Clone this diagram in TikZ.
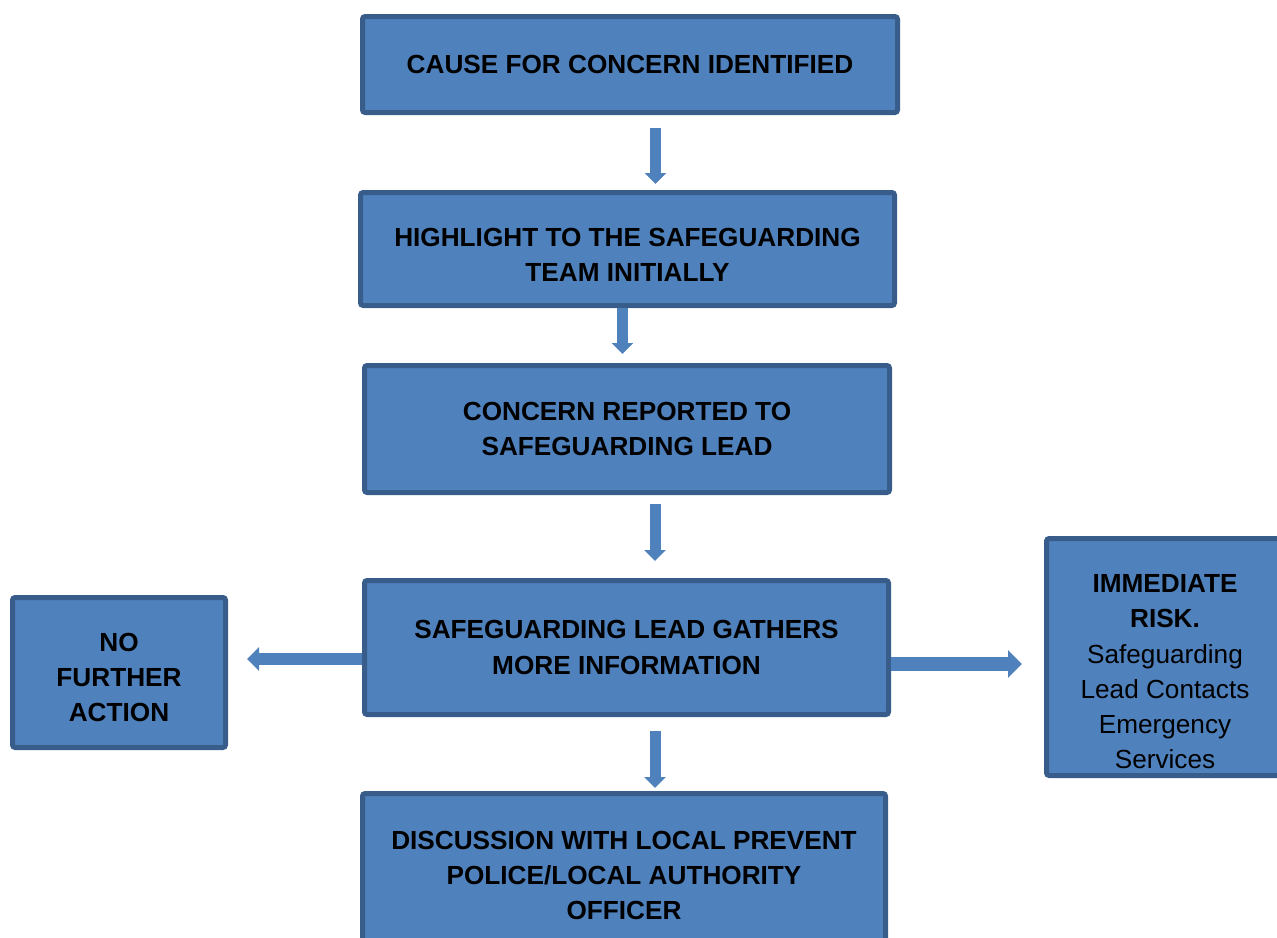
\documentclass[tikz,border=0pt]{standalone}
\usepackage{fontspec}
\setmainfont{Liberation Sans}
\usetikzlibrary{arrows.meta, positioning}
\definecolor{cFill}{HTML}{4F81BD}
\definecolor{cBorder}{HTML}{385D8A}
\tikzset{
  box/.style={draw=cBorder, fill=cFill, line width=0.1cm, rounded corners=1.5pt,
    align=center, inner sep=2pt, text=black,
    font=\fontsize{14.9}{20}\selectfont\bfseries},
  mainbox/.style={box, minimum width=10.5cm},
  sidebox/.style={box, minimum width=4.26cm, minimum height=3.0cm},
  flow/.style={-{Triangle[length=0.22cm, width=0.42cm]}, line width=0.22cm, draw=cFill},
}

\begin{document}
\begin{tikzpicture}

  \useasboundingbox (0,0) rectangle (25.54,-18.76);

  % ----------------------------------------------------------------
  % Main column
  % ----------------------------------------------------------------
  \node[mainbox, minimum width=10.70cm, minimum height=1.92cm] (cause) at (12.60,-1.29)
    {CAUSE FOR CONCERN IDENTIFIED};
  \node[mainbox, minimum width=10.68cm, minimum height=2.26cm, below=1.50cm of cause, xshift=-0.05cm] (highlight)
    {\rule{0pt}{17.5pt}HIGHLIGHT TO THE SAFEGUARDING\\ TEAM INITIALLY};
  \node[mainbox, minimum height=2.54cm, below=1.10cm of highlight, xshift=-0.01cm] (reported)
    {CONCERN REPORTED TO\\ SAFEGUARDING LEAD};
  \node[mainbox, minimum width=10.48cm, minimum height=2.68cm, below=1.66cm of reported, xshift=-0.01cm] (gathers)
    {SAFEGUARDING LEAD GATHERS\\ MORE INFORMATION};
  \node[mainbox, minimum width=10.46cm, minimum height=3.14cm, below=1.48cm of gathers, xshift=-0.05cm] (discussion)
    {\rule{0pt}{14pt}DISCUSSION WITH LOCAL PREVENT\\ POLICE/LOCAL AUTHORITY\\ OFFICER};

  % ----------------------------------------------------------------
  % Side outcomes
  % ----------------------------------------------------------------
  \node[sidebox, left=2.68cm of gathers, yshift=-0.50cm] (nfa)
    {\rule{0pt}{15.8pt}NO\\ FURTHER\\ ACTION};
  \node[sidebox, minimum width=4.74cm, minimum height=4.74cm, right=3.06cm of gathers, yshift=-0.19cm] (risk)
    {\rule{0pt}{27pt}IMMEDIATE\\ RISK.\\ \mdseries Safeguarding\\ \mdseries Lead Contacts\\ \mdseries Emergency\\ \mdseries Services};

  % ----------------------------------------------------------------
  % Arrows
  % ----------------------------------------------------------------
  \draw[flow, shorten <=0.26cm, shorten >=0.12cm] ([xshift=0.51cm]cause.south) -- ([xshift=0.51cm]cause.south |- highlight.north);
  \draw[flow, shorten >=0.18cm] ([xshift=-0.10cm]highlight.south) -- ([xshift=-0.10cm]highlight.south |- reported.north);
  \draw[flow, shorten <=0.18cm, shorten >=0.34cm] ([xshift=0.56cm]reported.south) -- ([xshift=0.56cm]reported.south |- gathers.north);
  \draw[flow, shorten <=0.28cm, shorten >=0.06cm] ([xshift=0.57cm]gathers.south) -- ([xshift=0.57cm]gathers.south |- discussion.north);
  \draw[flow, line width=0.24cm, -{Triangle[length=0.24cm, width=0.46cm]}, shorten >=0.38cm] ([yshift=-0.23cm]gathers.west) -- ([yshift=-0.23cm]gathers.west -| nfa.east);
  \draw[flow, line width=0.28cm, -{Triangle[length=0.28cm, width=0.54cm]}, shorten >=0.44cm] ([yshift=-0.33cm]gathers.east) -- ([yshift=-0.33cm]gathers.east -| risk.west);

\end{tikzpicture}
\end{document}
